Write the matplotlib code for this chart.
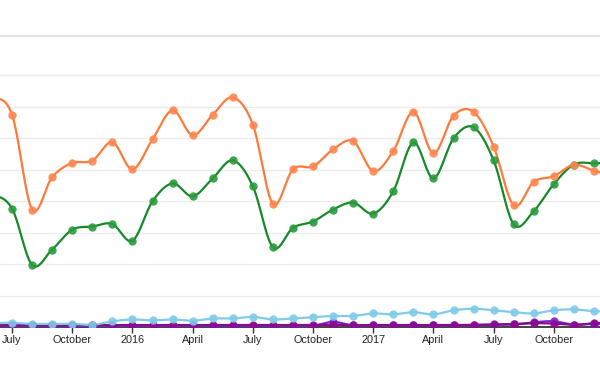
import matplotlib
matplotlib.use("Agg")
import matplotlib.pyplot as plt
import numpy as np

# months from June 2015 (index 0) to January 2018 (index 31)
months = np.arange(32)
tick_pos = [1, 4, 7, 10, 13, 16, 19, 22, 25, 28]
tick_labels = ["July", "October", "2016", "April", "July", "October",
               "2017", "April", "July", "October"]

orange = [73.0, 67.4, 37.3, 47.6, 52.1, 52.8, 58.7, 50.1, 59.6, 68.8,
          60.9, 67.4, 72.9, 64.3, 39.1, 50.1, 51.0, 56.4, 59.0, 49.5,
          55.9, 68.3, 55.2, 67.1, 68.3, 57.3, 38.6, 46.1, 47.9, 51.5,
          49.6, 48.0]
green = [42.0, 37.6, 19.7, 24.6, 30.9, 31.9, 32.7, 27.4, 39.9, 45.6,
         41.5, 47.2, 52.9, 44.7, 25.3, 31.5, 33.5, 37.3, 39.5, 36.0,
         43.1, 58.6, 47.2, 59.9, 63.4, 52.9, 32.6, 36.8, 45.4, 51.6,
         52.0, 52.0]
skyblue = [1.2, 1.3, 1.0, 1.0, 1.0, 0.7, 1.8, 2.4, 2.1, 2.4,
           2.0, 2.7, 2.7, 3.2, 2.4, 2.7, 3.1, 3.5, 3.5, 4.3,
           4.0, 4.7, 4.0, 5.3, 5.8, 5.3, 4.7, 4.3, 5.3, 5.6,
           5.0, 5.0]
violet = [0.4, 0.4, 0.4, 0.4, 0.4, 0.4, 0.4, 0.4, 0.4, 0.4,
          0.4, 0.4, 0.4, 0.4, 0.4, 0.4, 0.4, 1.6, 0.5, 0.5,
          0.5, 0.5, 0.5, 0.5, 0.6, 0.7, 0.8, 1.5, 1.8, 0.7,
          1.0, 1.0]
purple = [0.6, 0.6, 0.6, 0.6, 0.6, 0.6, 0.6, 0.6, 0.6, 0.6,
          0.6, 0.6, 0.6, 0.6, 0.6, 0.6, 0.6, 0.7, 0.6, 0.6,
          0.6, 0.6, 0.6, 0.6, 0.7, 0.8, 0.9, 1.2, 1.1, 0.7,
          1.2, 1.2]


def smooth(x, y, n=20):
    # catmull-rom curve through the points, for drawing only
    x = np.asarray(x, float)
    y = np.asarray(y, float)
    px = np.concatenate(([2 * x[0] - x[1]], x, [2 * x[-1] - x[-2]]))
    py = np.concatenate(([y[0]], y, [y[-1]]))
    xs, ys = [], []
    t = np.linspace(0, 1, n, endpoint=False)
    for i in range(1, len(px) - 2):
        for p, out in ((px, xs), (py, ys)):
            p0, p1, p2, p3 = p[i - 1], p[i], p[i + 1], p[i + 2]
            out.extend(0.5 * (2 * p1 + (-p0 + p2) * t
                              + (2 * p0 - 5 * p1 + 4 * p2 - p3) * t ** 2
                              + (-p0 + 3 * p1 - 3 * p2 + p3) * t ** 3))
    xs.append(x[-1])
    ys.append(y[-1])
    return np.array(xs), np.array(ys)


fig = plt.figure(figsize=(6, 3.68), dpi=100)
ax = fig.add_axes([0, 41 / 368, 1, (327 - 35.7) / 368])

series = [
    (violet, "#7a1fd6", "#7a1fd6"),
    (purple, "#8b0a8b", "#8b0a8b"),
    (skyblue, "#7fcbe8", "#7fcbe8"),
    (green, "#168a2a", "#2a9a3c"),
    (orange, "#ff7a3a", "#ff8650"),
]
for vals, lc, mc in series:
    sx, sy = smooth(months, vals)
    ax.plot(sx, sy, color=lc, lw=1.6, zorder=3, clip_on=True)
    ax.plot(months, vals, "o", color=mc, ms=6, alpha=0.9, zorder=4,
            markeredgewidth=0)

ax.set_xlim(0.40, 30.3)
ax.set_ylim(0, 92.5)
ax.set_yticks(np.arange(10, 90, 10))
ax.yaxis.grid(True, color="#ebebeb", lw=1)
ax.set_axisbelow(True)
ax.tick_params(axis="y", left=False, labelleft=False)

ax.set_xticks(tick_pos)
ax.set_xticklabels(tick_labels, fontsize=7.8, family="Liberation Sans",
                   color="#222222")
ax.tick_params(axis="x", direction="out", length=4, width=1, pad=2,
               color="#333333")

for s in ["left", "right"]:
    ax.spines[s].set_visible(False)
ax.spines["top"].set_color("#e3e3e3")
ax.spines["top"].set_linewidth(1.6)
ax.spines["bottom"].set_color("#222222")
ax.spines["bottom"].set_linewidth(1.2)

fig.savefig("out.png", dpi=100)
